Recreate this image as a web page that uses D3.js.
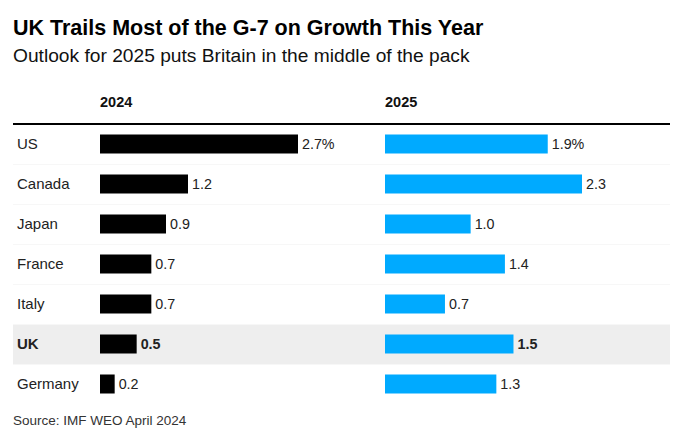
<!DOCTYPE html>
<html>
<head>
<meta charset="utf-8">
<script src="https://cdn.jsdelivr.net/npm/d3@7"></script>
<style>
  body { margin: 0; background: #fff; }
  svg { display: block; font-family: "Liberation Sans", Arial, Helvetica, sans-serif; }
</style>
</head>
<body>
<svg id="chart" width="700" height="446"></svg>
<script>
// Chart data
var countries = ["US", "Canada", "Japan", "France", "Italy", "UK", "Germany"];
var growth2024 = [2.7, 1.2, 0.9, 0.7, 0.7, 0.5, 0.2];
var growth2025 = [1.9, 2.3, 1.0, 1.4, 0.7, 1.5, 1.3];
var columnLabels = ["2024", "2025"];
var highlight = "UK";

var svg = d3.select("#chart");

// header text
svg.append("text")
    .attr("x", 13).attr("y", 35)
    .attr("font-size", 21.5).attr("font-weight", "bold")
    .attr("fill", "#000")
    .text("UK Trails Most of the G-7 on Growth This Year");

svg.append("text")
    .attr("x", 13).attr("y", 62)
    .attr("font-size", 19.2)
    .attr("fill", "#111")
    .text("Outlook for 2025 puts Britain in the middle of the pack");

// row positions
var y = d3.scaleBand()
    .domain(countries)
    .range([124, 404])
    .paddingInner(0);

var barH = 19;

// each column gets its own scale, longest bar ~198px
var x24 = d3.scaleLinear().domain([0, d3.max(growth2024)]).range([100, 298]);
var x25 = d3.scaleLinear().domain([0, d3.max(growth2025)]).range([385, 582]);

// faint row separators
svg.selectAll("line.sep")
    .data(countries.slice(0, -1))
    .enter().append("line")
    .attr("class", "sep")
    .attr("x1", 13).attr("x2", 670)
    .attr("y1", function(d){ return y(d) + y.bandwidth() + 0.5; })
    .attr("y2", function(d){ return y(d) + y.bandwidth() + 0.5; })
    .attr("stroke", "#f7f7f7");

// highlighted row background
svg.append("rect")
    .attr("x", 13).attr("width", 657)
    .attr("y", y(highlight) + 1).attr("height", y.bandwidth() - 1)
    .attr("fill", "#eeeeee");

// column headers
var headX = [x24(0), x25(0)];
svg.selectAll("text.colhead")
    .data(columnLabels)
    .enter().append("text")
    .attr("class", "colhead")
    .attr("x", function(d, i){ return headX[i]; })
    .attr("y", 107)
    .attr("font-size", 14.5).attr("font-weight", "bold")
    .attr("fill", "#111")
    .text(function(d){ return d; });

// top rule
svg.append("line")
    .attr("x1", 13).attr("x2", 670)
    .attr("y1", 124).attr("y2", 124)
    .attr("stroke", "#000").attr("stroke-width", 2);

// country labels
svg.selectAll("text.country")
    .data(countries)
    .enter().append("text")
    .attr("class", "country")
    .attr("x", 17)
    .attr("y", function(d){ return y(d) + y.bandwidth() / 2; })
    .attr("dy", "0.35em")
    .attr("font-size", 15)
    .attr("font-weight", function(d){ return d === highlight ? "bold" : "normal"; })
    .attr("fill", "#222")
    .text(function(d){ return d; });

function drawBars(values, x, color, cls) {
    var rows = svg.selectAll("g." + cls)
        .data(values)
        .enter().append("g")
        .attr("class", cls);

    rows.append("rect")
        .attr("x", x(0))
        .attr("y", function(d, i){ return y(countries[i]) + (y.bandwidth() - barH) / 2; })
        .attr("width", function(d){ return x(d) - x(0); })
        .attr("height", barH)
        .attr("fill", color);

    rows.append("text")
        .attr("x", function(d){ return x(d) + 4; })
        .attr("y", function(d, i){ return y(countries[i]) + y.bandwidth() / 2; })
        .attr("dy", "0.35em")
        .attr("font-size", 14.3)
        .attr("font-weight", function(d, i){ return countries[i] === highlight ? "bold" : "normal"; })
        .attr("fill", "#222")
        .text(function(d, i){ return d3.format(".1f")(d) + (i === 0 ? "%" : ""); });
}

drawBars(growth2024, x24, "#000000", "bar24");
drawBars(growth2025, x25, "#00aaff", "bar25");

// source
svg.append("text")
    .attr("x", 13).attr("y", 425)
    .attr("font-size", 13.5)
    .attr("fill", "#333")
    .text("Source: IMF WEO April 2024");
</script>
</body>
</html>
